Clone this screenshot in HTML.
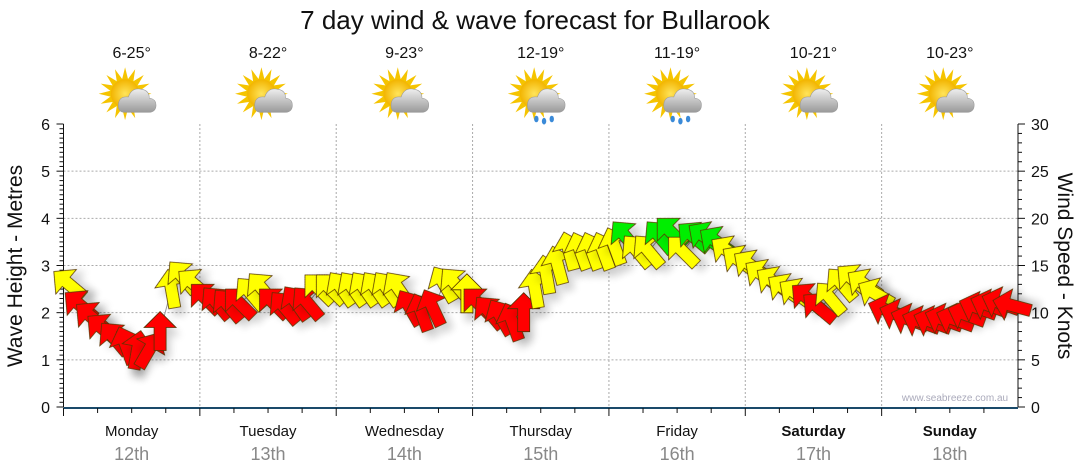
<!DOCTYPE html>
<html><head><meta charset="utf-8"><style>
body{margin:0;background:#fff;}
svg{display:block;font-family:"Liberation Sans",sans-serif;}
</style></head><body>
<svg id="chart" width="1080" height="475" viewBox="0 0 1080 475">
<defs>
<filter id="sh" x="-50%" y="-50%" width="200%" height="200%"><feGaussianBlur in="SourceAlpha" stdDeviation="4"/><feOffset dx="4" dy="8"/><feComponentTransfer><feFuncA type="linear" slope="0.18"/></feComponentTransfer><feMerge><feMergeNode/><feMergeNode in="SourceGraphic"/></feMerge></filter>
<radialGradient id="sun" cx="50%" cy="50%" r="50%"><stop offset="0" stop-color="#ffe45a"/><stop offset="1" stop-color="#f2b400"/></radialGradient>
<linearGradient id="cloud" x1="0" y1="0" x2="0" y2="1"><stop offset="0" stop-color="#eee"/><stop offset="1" stop-color="#999"/></linearGradient>
</defs>
<text x="535" y="29" font-size="26" text-anchor="middle" fill="#111">7 day wind &amp; wave forecast for Bullarook</text>
<g id="grid"></g>
<g id="axes"></g>
<g id="icons"></g>
<g id="marks"></g>
<text x="955" y="401" font-size="10" fill="#aab" text-anchor="middle">www.seabreeze.com.au</text>
<text transform="translate(22,266) rotate(-90)" font-size="21" text-anchor="middle" fill="#111">Wave Height - Metres</text>
<text transform="translate(1058,266) rotate(90)" font-size="21" text-anchor="middle" fill="#111">Wind Speed - Knots</text>
</svg>
<script>
const days=["Monday","Tuesday","Wednesday","Thursday","Friday","Saturday","Sunday"];
const dates=["12th","13th","14th","15th","16th","17th","18th"];
const temps=["6-25°","8-22°","9-23°","12-19°","11-19°","10-21°","10-23°"];
const rainy=[false,false,false,true,true,false,false];
const waveTicks=[0,1,2,3,4,5,6];
const windTicks=[0,5,10,15,20,25,30];
const wave=[2.6,2.15,1.9,1.65,1.45,1.3,1.2,1.2,1.6,2.5,2.75,2.6,
2.3,2.2,2.15,2.2,2.4,2.5,2.2,2.1,2.2,2.2,2.5,2.5,
2.5,2.5,2.5,2.5,2.5,2.5,2.1,2.0,2.1,2.6,2.6,2.4,
2.2,2.0,1.9,1.8,2.0,2.5,2.8,3.0,3.3,3.3,3.3,3.3,
3.4,3.6,3.3,3.3,3.6,3.7,3.3,3.6,3.6,3.5,3.3,3.1,
3.0,2.8,2.65,2.5,2.4,2.3,2.1,2.3,2.6,2.7,2.6,2.4,
2.05,1.95,1.85,1.8,1.8,1.85,1.85,1.95,2.1,2.15,2.2,2.15];
const wind=[11,8,8,8,8,8,8,8,8,11,11,11,
8,8,8,8,11,11,8,8,8,8,11,11,
11,11,11,11,11,11,8,8,8,11,11,11,
8,8,8,8,8,11,11,12,12,12,12,12,
13,18,13,13,18,18,13,18,18,18,13,13,
12,12,12,12,12,8,8,12,12,12,12,12,
8,8,8,8,8,8,8,8,8,8,8,8];
const dir=[-50,-50,-50,-50,-40,-20,10,30,0,-10,-40,-50,
-45,-40,-40,-45,-40,-40,-45,-40,-35,-40,-45,-45,
-35,-35,-35,-35,-35,-35,-30,-20,-25,-30,-40,0,
-45,-40,-30,-20,0,-10,-10,-15,-15,-20,-20,-20,
-20,-40,-40,-40,-40,-45,-45,-50,-55,-55,-55,-55,
-55,-55,-55,-55,-55,-50,-50,-40,-40,-50,-55,-60,
-70,-70,-70,-70,-70,-70,-70,-70,-70,-70,-70,-75];
const X0=63.5,X1=1018,Y0=407,Y1=124;
function xt(hour){return X0+hour/168*(X1-X0);}
function yw(h){return Y0-h/6*(Y0-Y1);}
function yk(k){return Y0-k/30*(Y0-Y1);}
const NS="http://www.w3.org/2000/svg";
function mk(t,a,p){const e=document.createElementNS(NS,t);for(const k in a)e.setAttribute(k,a[k]);p.appendChild(e);return e;}
const grid=document.getElementById('grid'),axes=document.getElementById('axes'),icons=document.getElementById('icons'),marks=document.getElementById('marks');
waveTicks.forEach(v=>{if(v>0&&v<6){const l=mk('line',{x1:X0,x2:X1,y1:yw(v),y2:yw(v),stroke:'#aaa','stroke-dasharray':'2,2'},grid);

}
const t=mk('text',{x:50,y:yw(v)+6,'font-size':16,'text-anchor':'end',fill:'#111'},axes);t.textContent=v;

});
windTicks.forEach(v=>{const t=mk('text',{x:1031,y:yk(v)+6,'font-size':16,fill:'#111'},axes);t.textContent=v;

});
for(let i=0;i<=60;i++){const y=Y0-i*(Y0-Y1)/60;mk('line',{x1:X0,x2:X0-(i%10?4:7),y1:y,y2:y,stroke:'#111'},axes);}
for(let i=0;i<=30;i++){const y=yk(i);mk('line',{x1:X1,x2:X1+(i%5?4:7),y1:y,y2:y,stroke:'#111'},axes);}
mk('line',{x1:X0,x2:X0,y1:Y1,y2:Y0,stroke:'#111'},axes);
mk('line',{x1:X1,x2:X1,y1:Y1,y2:Y0,stroke:'#111'},axes);
mk('line',{x1:X0,x2:X1,y1:Y0+1,y2:Y0+1,stroke:'#1a4a6a','stroke-width':2},axes);
for(let d=0;d<7;d++){
 const x=xt(d*24);
 if(d>0){const l=mk('line',{x1:x,x2:x,y1:Y1,y2:Y0,stroke:'#aaa','stroke-dasharray':'2,2'},grid);
 
 }
 for(let q=0;q<4;q++){const xx=xt(d*24+q*6);mk('line',{x1:xx,x2:xx,y1:Y0+1,y2:Y0+(q?6:9),stroke:'#111'},axes);}
 const cx=xt(d*24+12);
 const dn=mk('text',{x:cx,y:436,'font-size':15,'text-anchor':'middle',fill:'#111','font-weight':d>=5?'bold':'normal'},axes);dn.textContent=days[d];
 
 
 const dt=mk('text',{x:cx,y:460,'font-size':18,'text-anchor':'middle',fill:'#888'},axes);dt.textContent=dates[d];
 
 
 const tt=mk('text',{x:cx,y:58,'font-size':16,'text-anchor':'middle',fill:'#111'},icons);tt.textContent=temps[d];
 
 
 const g=mk('g',{transform:`translate(${cx},97) scale(1.1)`},icons);
 
 
 for(let r=0;r<16;r++){const a=r*22.5;mk('polygon',{points:'-3,-12 0,-24 3,-12',fill:'#f5c400',transform:`translate(-6,-3) rotate(${a})`},g);}
 mk('circle',{cx:-6,cy:-3,r:13,fill:'url(#sun)'},g);
 mk('path',{d:'M-6,14 Q-13,14 -12,6 Q-11,-1 -3,0 Q0,-9 9,-7 Q16,-6 16,1 Q23,2 22,9 Q21,14 15,14 Z',fill:'url(#cloud)',stroke:'#999','stroke-width':0.5},g);
 if(rainy[d]){[[-4,20],[3,22],[10,20]].forEach(p=>mk('ellipse',{cx:p[0],cy:p[1],rx:2,ry:3,fill:'#3a8ad8'},g));}
}
function col(k){return k>=17?'#00ee00':(k>=10?'#ffff00':'#ff0000');}
const pts=wave.map((h,i)=>[xt(i*2+1),yw(h)]);
const ln=mk('polyline',{points:pts.map(p=>p.join(',')).join(' '),fill:'none',stroke:'#999','stroke-width':1},marks);


wave.forEach((h,i)=>{
 const x=xt(i*2+1),y=yw(h);
 const p=mk('polygon',{points:'0,-20 16,-4 6,-4 6,19 -6,19 -6,-4 -16,-4',fill:col(wind[i]),stroke:'#553300','stroke-width':0.8,filter:'url(#sh)',transform:`translate(${x},${y}) rotate(${dir[i]})`},marks);
 
 
});
</script>
</body></html>
